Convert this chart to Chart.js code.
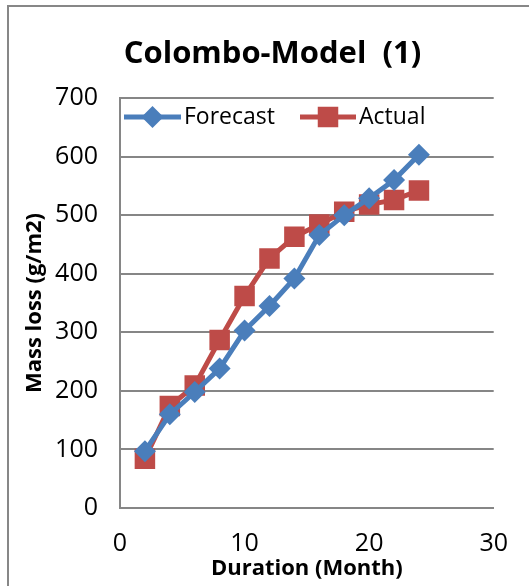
<!DOCTYPE html>
<html>
<head>
<meta charset="utf-8">
<script src="https://cdn.jsdelivr.net/npm/chart.js@4.4.0/dist/chart.umd.min.js"></script>
<style>
  html, body { margin: 0; padding: 0; background: #fff; overflow: hidden; }
  #wrap { position: relative; width: 529px; height: 586px; }
  #frame { position: absolute; left: 7px; top: 5px; width: 700px; height: 800px; border: 2px solid #878787; }
  canvas { position: absolute; left: 0; top: 0; }
</style>
</head>
<body>
<div id="wrap">
  <div id="frame"></div>
  <canvas id="chart" width="529" height="586"></canvas>
</div>
<script>
const months = [2, 4, 6, 8, 10, 12, 14, 16, 18, 20, 22, 24];
const forecast = [97, 160, 198, 238, 303, 345, 392, 466, 500, 529, 560, 603];
const actual = [84, 174, 209, 287, 362, 426, 463, 484, 506, 518, 526, 542];
const xTicks = [0, 10, 20, 30];
const yTicks = [0, 100, 200, 300, 400, 500, 600, 700];

const blue = '#4A7EBB';
const red = '#BE4B48';
const fontFamily = '"Open Sans", Lato, sans-serif';

// legend drawn inside the plot, line + marker like Excel
const insideLegend = {
    id: 'insideLegend',
    afterDraw(chart) {
        const ctx = chart.ctx;
        const y = 117;
        const items = [
            { text: 'Forecast', color: blue, style: 'rectRot', radius: 11, x0: 124, x1: 181 },
            { text: 'Actual', color: red, style: 'rect', radius: 14.5, x0: 300, x1: 356 }
        ];
        ctx.save();
        items.forEach(item => {
            ctx.strokeStyle = item.color;
            ctx.lineWidth = 5;
            ctx.beginPath();
            ctx.moveTo(item.x0, y);
            ctx.lineTo(item.x1, y);
            ctx.stroke();
            const cx = (item.x0 + item.x1) / 2;
            ctx.fillStyle = item.color;
            Chart.helpers.drawPoint(ctx, {
                pointStyle: item.style,
                radius: item.radius,
                borderWidth: 0
            }, cx, y);
            ctx.fillStyle = '#000';
            ctx.font = '23px ' + fontFamily;
            ctx.textBaseline = 'middle';
            ctx.textAlign = 'left';
            ctx.fillText(item.text, item.x1 + 3, y);
        });
        ctx.restore();
    }
};

new Chart(document.getElementById('chart'), {
    type: 'line',
    data: {
        datasets: [
            {
                label: 'Forecast',
                data: months.map((m, i) => ({ x: m, y: forecast[i] })),
                borderColor: blue,
                backgroundColor: blue,
                borderWidth: 5,
                pointStyle: 'rectRot',
                pointRadius: 11,
                pointBorderWidth: 0,
                tension: 0
            },
            {
                label: 'Actual',
                data: months.map((m, i) => ({ x: m, y: actual[i] })),
                borderColor: red,
                backgroundColor: red,
                borderWidth: 5,
                pointStyle: 'rect',
                pointRadius: 14.5,
                pointBorderWidth: 0,
                tension: 0
            }
        ]
    },
    options: {
        responsive: false,
        animation: false,
        // left padding shifts the title centre to the right, y axis keeps plot left at 120
        layout: { padding: { left: 44, right: 28, top: 0, bottom: 0 } },
        plugins: {
            legend: { display: false },
            tooltip: { enabled: false },
            title: {
                display: true,
                text: 'Colombo-Model  (1)',
                color: '#000',
                font: { family: fontFamily, size: 31, weight: 'bold', lineHeight: 1.2 },
                padding: { top: 36, bottom: 24.8 }
            }
        },
        scales: {
            x: {
                type: 'linear',
                min: 0,
                max: 30,
                afterBuildTicks: axis => { axis.ticks = xTicks.map(v => ({ value: v })); },
                afterFit: axis => { axis.height = 78; },
                grid: { display: false, drawTicks: false },
                border: { display: true, color: '#868686', width: 2 },
                ticks: { color: '#000', padding: 21, font: { family: fontFamily, size: 25 } },
                title: {
                    display: true,
                    text: 'Duration (Month)',
                    color: '#000',
                    font: { family: fontFamily, size: 22, weight: 'bold', lineHeight: 1 },
                    padding: { top: 0, bottom: 6 }
                }
            },
            y: {
                min: 0,
                max: 700,
                afterBuildTicks: axis => { axis.ticks = yTicks.map(v => ({ value: v })); },
                afterFit: axis => { axis.width = 76; },
                grid: { color: '#868686', lineWidth: 2, drawTicks: false },
                border: { display: true, color: '#868686', width: 2 },
                ticks: { color: '#000', padding: 22, font: { family: fontFamily, size: 25 } },
                title: {
                    display: true,
                    text: 'Mass loss (g/m2)',
                    color: '#000',
                    font: { family: fontFamily, size: 22, weight: 'bold', lineHeight: 1 },
                    padding: { top: -20, bottom: 0 }
                }
            }
        }
    },
    plugins: [insideLegend]
});
</script>
</body>
</html>
